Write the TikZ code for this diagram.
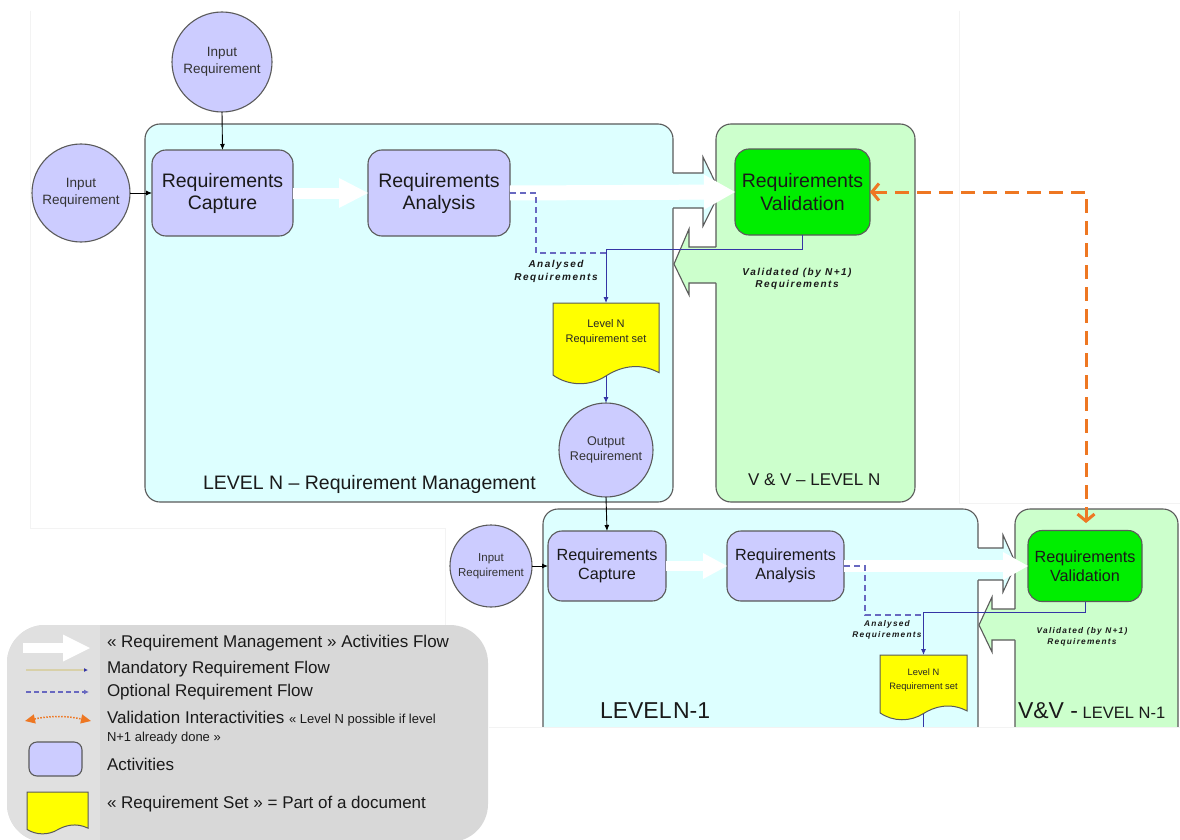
\documentclass[tikz,border=0pt]{standalone}
\usepackage{fontspec}
\setmainfont{Liberation Sans}
\newfontfamily\spacedfont[LetterSpace=15]{Liberation Sans}
\usetikzlibrary{arrows.meta}
\definecolor{cyanbg}{HTML}{DDFFFF}
\definecolor{greenbg}{HTML}{CCFFCC}
\definecolor{lav}{HTML}{CCCCFF}
\definecolor{valgreen}{HTML}{00EE00}
\definecolor{docyel}{HTML}{FFFF00}
\definecolor{edge}{HTML}{5A5A5A}
\definecolor{flowblue}{HTML}{3535A5}
\definecolor{optblue}{HTML}{6868C0}
\definecolor{vorange}{HTML}{EE7722}
\definecolor{leggray}{HTML}{D8D8D8}
\definecolor{legstrip}{HTML}{E0E0E0}
\definecolor{faint}{HTML}{F3F3F3}
\definecolor{beige}{HTML}{D8D0A8}
\definecolor{txt}{HTML}{1A1A1A}
\tikzset{
  docshape/.pic={\path[pic actions] (0,0) -- (1,0) -- (1,0.86) .. controls (0.8,0.72) and (0.62,0.8) .. (0.5,0.9) .. controls (0.35,1.03) and (0.15,1.03) .. (0,0.89) -- cycle;},
  region/.style={draw=edge, line width=1.1pt, rounded corners=15pt},
  notchline/.style={draw=edge, line width=1.1pt},
  act/.style={draw=edge, line width=1.1pt, fill=lav, rounded corners=14pt, align=center, text=txt},
  valbox/.style={act, fill=valgreen},
  inreq/.style={circle, draw=edge, line width=1.1pt, fill=lav, align=center, text=black!80},
  docstyle/.style={draw=edge, line width=1pt, fill=docyel},
  docbox/.style={draw=none, anchor=north west},
  doctext/.style={align=center, text=black!85},
  wflow/.style n args={3}{draw=white, line width=#1, -{Triangle[length=#2 0 0, width=#3 0 0, line width=0pt 0 0]}},
  blk/.style={draw=black, line width=0.9pt, -{Latex[length=6pt 0 0, width=5pt 0 0]}},
  mand/.style={draw=flowblue, line width=0.9pt, -{Latex[length=6pt 0 0, width=5pt 0 0]}},
  mandline/.style={draw=flowblue, line width=0.9pt},
  opt/.style={draw=optblue, line width=1.1pt, dash pattern=on 6pt off 4pt},
  lbl/.style={align=center, text=txt},
  lvl/.style={anchor=base west, text=txt},
  legtxt/.style={anchor=base west, text=txt, font=\fontsize{17}{20}\selectfont},
  faintline/.style={draw=faint, line width=0.6pt}
}
\begin{document}
\begin{tikzpicture}[x=1pt, y=-1pt, every node/.style={inner sep=0pt, outer sep=0pt}]
\useasboundingbox (0,0) rectangle (1180,840);
\fill[white] (0,0) rectangle (1180,840);
% faint edges of pasted pictures
\draw[faintline] (30,11) -- (30,528) -- (445,528) -- (445,625);
\draw[faintline] (959,11) -- (959,503) -- (1180,503);

% ===== Level N region =====
\path[region, fill=cyanbg] (145,124) rectangle (673,502);
\fill[cyanbg] (670,173) -- (703,173) -- (703,157) -- (720,192) -- (703,226) -- (703,208) -- (670,208) -- cycle;
\draw[notchline] (673,173) -- (703,173) -- (703,157) -- (720,192) -- (703,226) -- (703,208) -- (673,208);
\path[region, fill=greenbg] (716,124) rectangle (915,502);
\fill[greenbg] (717.5,247) -- (689,247) -- (689,229) -- (674,264) -- (689,295) -- (689,283) -- (717.5,283) -- cycle;
\draw[notchline] (716,247) -- (689,247) -- (689,229) -- (674,264) -- (689,295) -- (689,283) -- (716,283);

% ===== Level N-1 region =====
\path[region, fill=cyanbg] (543,509) rectangle (978,770);
\fill[cyanbg] (975,548) -- (1003,548) -- (1003,535) -- (1016,564) -- (1003,592) -- (1003,580) -- (975,580) -- cycle;
\draw[notchline] (978,548) -- (1003,548) -- (1003,535) -- (1016,564) -- (1003,592) -- (1003,580) -- (978,580);
\path[region, fill=greenbg] (1015,509) rectangle (1178,770);
\fill[greenbg] (1016.5,609) -- (992,609) -- (992,597) -- (979,625) -- (992,652) -- (992,640) -- (1016.5,640) -- cycle;
\draw[notchline] (1015,609) -- (992,609) -- (992,597) -- (979,625) -- (992,652) -- (992,640) -- (1015,640);

% ===== Level N nodes =====
\node[inreq, minimum size=100pt, font=\fontsize{13.5}{16.5}\selectfont] (inT) at (222,62) {Input\\Requirement};
\node[inreq, minimum size=98pt, font=\fontsize{13.5}{16.5}\selectfont] (inL) at (81,193) {Input\\Requirement};
\node[act, minimum width=141pt, minimum height=86pt, font=\fontsize{19.5}{22}\selectfont] (capN) at (222.5,193) {Requirements\\Capture};
\node[act, minimum width=142pt, minimum height=86pt, font=\fontsize{19.5}{22}\selectfont] (anaN) at (439,193) {Requirements\\Analysis};
\node[valbox, minimum width=135pt, minimum height=86pt, font=\fontsize{19.5}{22.5}\selectfont] (valN) at (802.5,192) {Requirements\\Validation};
\node[docbox, minimum width=106pt, minimum height=73pt] (docN) at (553,303) {};
\pic[docstyle, xscale=106, yscale=81] at (553,303) {docshape};
\node[doctext, font=\fontsize{11}{15}\selectfont] (docNt) at (606,332) {Level N\\Requirement set};
\node[inreq, minimum size=94pt, font=\fontsize{12.6}{15.5}\selectfont] (outN) at (606,450) {Output\\Requirement};

% ===== Level N-1 nodes =====
\node[inreq, minimum size=82pt, font=\fontsize{11.5}{14.5}\selectfont] (inM) at (491,566) {Input\\Requirement};
\node[act, minimum width=118pt, minimum height=70pt, font=\fontsize{16.2}{19}\selectfont] (capM) at (607,566) {Requirements\\Capture};
\node[act, minimum width=117pt, minimum height=70pt, font=\fontsize{16.2}{19}\selectfont] (anaM) at (785.5,566) {Requirements\\Analysis};
\node[valbox, minimum width=114pt, minimum height=71pt, font=\fontsize{16.2}{19}\selectfont] (valM) at (1085,566) {Requirements\\Validation};
\node[docbox, minimum width=87pt, minimum height=58.5pt] (docM) at (880,655) {};
\pic[docstyle, xscale=87, yscale=65] at (880,655) {docshape};
\node[doctext, font=\fontsize{9.3}{14}\selectfont] (docMt) at (923.5,680) {Level N\\Requirement set};

% ===== flows Level N =====
\draw[wflow={11pt}{29pt}{30pt}] (capN.east) -- (anaN.west);
\draw[wflow={15pt}{31pt}{35pt}] (anaN.east) -- (valN.west);
\draw[blk] (inT.south) -- (capN.north);
\draw[blk] (inL.east) -- (capN.west);
\coordinate (dashN) at (606,253);
\draw[opt] (anaN.east) -- (536,193) |- (dashN);
\draw[mand] (valN.south) -- ++(0,14) -| (docN.north);
\draw[mand] (docN.south) -- (outN.north);
\draw[blk] (outN.south) -- (capM.north);

% ===== flows Level N-1 =====
\draw[wflow={10pt}{24pt}{26pt}] (capM.east) -- (anaM.west);
\draw[wflow={12pt}{25pt}{28pt}] (anaM.east) -- (valM.west);
\draw[blk] (inM.east) -- (capM.west);
\coordinate (dashM) at (923.5,615);
\draw[opt] (anaM.east) -- (865,566) |- (dashM);
\draw[mand] (valM.south) -- ++(0,11) -| (docM.north);
\coordinate (docMout) at (923.5,740);
\draw[mandline] (docM.south) -- (docMout);

% ===== validation interaction =====
\coordinate (orC) at (1086,192);
\coordinate (orE) at (1086,523);
\draw[vorange, line width=3pt, dash pattern=on 14pt off 8pt, {Straight Barb[length=7pt 0 0, width=17pt 0 0]}-{Straight Barb[length=7pt 0 0, width=17pt 0 0]}] (valN.east) -- (orC) -- (orE);

% ===== labels =====
\node[lbl, font=\fontsize{10}{13}\spacedfont\bfseries\itshape] (anlN) at (556,271) {Analysed\\Requirements};
\node[lbl, font=\fontsize{10}{12}\spacedfont\bfseries\itshape] (vldN) at (797,279) {Validated (by N+1)\\Requirements};
\node[lbl, font=\fontsize{8.3}{11}\spacedfont\bfseries\itshape] (anlM) at (887,630) {Analysed\\Requirements};
\node[lbl, font=\fontsize{8.3}{10.5}\spacedfont\bfseries\itshape] (vldM) at (1082,637) {Validated (by N+1)\\Requirements};
\node[lvl, font=\fontsize{19.5}{22}\selectfont] (lvlN) at (203,489) {LEVEL N – Requirement Management};
\node[lvl, font=\fontsize{17}{20}\selectfont] (vvN) at (748,485) {V \& V – LEVEL N};
\node[lvl, font=\fontsize{23}{26}\selectfont] (lvlM) at (600,718) {LEVEL\hspace{1.5pt}N-1};
\node[lvl] (vvM) at (1018,718) {\fontsize{23}{26}\selectfont V\&V -\fontsize{16.5}{20}\selectfont{} LEVEL N-1};

% cut of the lower picture
\fill[white] (489,728) rectangle (1181,841);
\draw[faintline] (489,727.5) -- (1180,727.5);

% ===== legend =====
\path[fill=leggray, rounded corners=38pt] (7,625) rectangle (488,842);
\begin{scope}
\clip[rounded corners=38pt] (7,625) rectangle (488,842);
\fill[legstrip] (7,625) rectangle (100,842);
\end{scope}
\coordinate (lgA1) at (23,648); \coordinate (lgA2) at (90,648);
\draw[wflow={10pt}{27pt}{27pt}] (lgA1) -- (lgA2);
\coordinate (lgB1) at (26,670); \coordinate (lgB2) at (88,670);
\draw[draw=beige, line width=1.3pt, -{Latex[length=4pt 0 0, width=4pt 0 0, color=flowblue]}] (lgB1) -- (lgB2);
\coordinate (lgC1) at (26,692); \coordinate (lgC2) at (89,692);
\draw[draw=optblue, line width=1.2pt, dash pattern=on 5pt off 3pt, -{Latex[length=5pt 0 0, width=5pt 0 0]}] (lgC1) -- (lgC2);
\coordinate (lgD1) at (25,721); \coordinate (lgD2) at (91,721);
\draw[vorange, line width=1.5pt, dash pattern=on 1.5pt off 1.5pt, {Triangle[length=10pt 0 0, width=9pt 0 0]}-{Triangle[length=10pt 0 0, width=9pt 0 0]}] (lgD1) to[bend left=12] (lgD2);
\node[act, minimum width=53pt, minimum height=34pt, rounded corners=8pt] (lgAct) at (55.5,759) {};
\pic[docstyle, xscale=61, yscale=42] at (27,792) {docshape};
\node[legtxt] (lg1) at (107,647) {« Requirement Management » Activities Flow};
\node[legtxt] (lg2) at (107,673) {Mandatory Requirement Flow};
\node[legtxt] (lg3) at (107,696) {Optional Requirement Flow};
\node[legtxt] (lg4) at (107,723) {Validation Interactivities \fontsize{13}{15}\selectfont« Level N possible if level};
\node[legtxt, font=\fontsize{13}{15}\selectfont] (lg4b) at (107,741) {N+1 already done »};
\node[legtxt] (lg5) at (107,770) {Activities};
\node[legtxt] (lg6) at (107,808) {« Requirement Set » = Part of a document};
\end{tikzpicture}
\end{document}
